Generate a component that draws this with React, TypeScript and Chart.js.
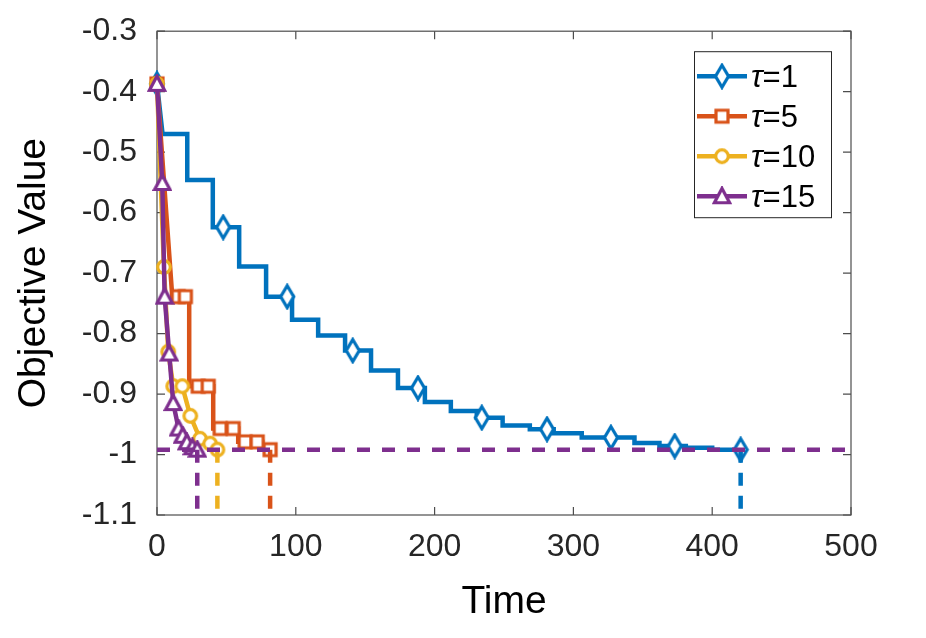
import React, { useEffect, useRef } from 'react';
import { Chart, registerables } from 'chart.js';

Chart.register(...registerables);

const FONT = '"Liberation Sans", Arial, Helvetica, sans-serif';

// Axis ticks
const xTicks = [0, 100, 200, 300, 400, 500];
const yTicks = [-1.1, -1, -0.9, -0.8, -0.7, -0.6, -0.5, -0.4, -0.3];

// Legend entries (tau values)
const tauLabels = ['1', '5', '10', '15'];
const seriesColors = ['#0072BD', '#D95319', '#EDB120', '#7E2F8E'];

// Reference objective reached by every run
const optimalValue = -0.992;

// tau = 1 : stair-shaped descent
const tau1Time = [0, 4, 21.8, 21.8, 40.2, 40.2, 59.2, 59.2, 78.6, 78.6, 97.3, 97.3, 116.1, 116.1, 135.5, 135.5, 154.2, 154.2, 173.6, 173.6, 193, 193, 211.7, 211.7, 230.4, 230.4, 249, 249, 268.6, 268.6, 285.8, 285.8, 306, 306, 344, 344, 362, 362, 381, 381, 400, 400, 420.5];
const tau1Value = [-0.387, -0.47, -0.47, -0.546, -0.546, -0.624, -0.624, -0.689, -0.689, -0.739, -0.739, -0.777, -0.777, -0.803, -0.803, -0.828, -0.828, -0.861, -0.861, -0.89, -0.89, -0.913, -0.913, -0.928, -0.928, -0.939, -0.939, -0.952, -0.952, -0.958, -0.958, -0.965, -0.965, -0.972, -0.972, -0.981, -0.981, -0.986, -0.986, -0.989, -0.989, -0.992, -0.992];
const tau1MarkTime = [0, 47.7, 93.8, 141, 188, 234, 281, 327, 373, 420.5];
const tau1MarkValue = [-0.387, -0.624, -0.739, -0.828, -0.89, -0.939, -0.958, -0.972, -0.986, -0.992];

// tau = 5
const tau5Time = [0, 11, 23.2, 23.2, 40.5, 40.5, 58.5, 58.5, 75.8, 75.8, 81.5];
const tau5Value = [-0.387, -0.739, -0.739, -0.887, -0.887, -0.957, -0.957, -0.979, -0.979, -0.99, -0.992];
const tau5MarkTime = [0, 15.3, 20.4, 29.7, 36.9, 45.5, 54.9, 63.5, 72.2, 81.5];
const tau5MarkValue = [-0.387, -0.739, -0.739, -0.887, -0.887, -0.957, -0.957, -0.979, -0.979, -0.992];

// tau = 10
const tau10Time = [0, 5, 8.1, 11.7, 18.2, 24, 31, 38.3, 43.5];
const tau10Value = [-0.387, -0.69, -0.83, -0.887, -0.887, -0.936, -0.974, -0.982, -0.992];

// tau = 15
const tau15Time = [0, 3.8, 5.5, 8.8, 11.7, 15.5, 18.5, 21.5, 25.5, 29];
const tau15Value = [-0.387, -0.551, -0.739, -0.833, -0.915, -0.957, -0.969, -0.98, -0.988, -0.992];

// Finishing time of each run (dashed drop lines)
const finishTime = [420.5, 81.5, 43.5, 29];

type Shape = 'diamond' | 'square' | 'circle' | 'triangle';
const seriesShapes: Shape[] = ['diamond', 'square', 'circle', 'triangle'];

function markerCanvas(shape: Shape, color: string): HTMLCanvasElement {
  const c = document.createElement('canvas');
  const w = shape === 'diamond' ? 18 : 20;
  const h = shape === 'diamond' ? 27 : 20;
  c.width = w;
  c.height = h;
  const g = c.getContext('2d')!;
  g.lineWidth = 3.2;
  g.strokeStyle = color;
  g.fillStyle = '#ffffff';
  g.lineJoin = 'miter';
  g.beginPath();
  if (shape === 'diamond') {
    g.moveTo(w / 2, 2.5);
    g.lineTo(w - 2.5, h / 2);
    g.lineTo(w / 2, h - 2.5);
    g.lineTo(2.5, h / 2);
  } else if (shape === 'square') {
    g.rect(4, 4, 12, 12);
  } else if (shape === 'circle') {
    g.arc(10, 10, 6.3, 0, Math.PI * 2);
  } else {
    g.moveTo(10, 2.2);
    g.lineTo(17.6, 16.5);
    g.lineTo(2.4, 16.5);
  }
  g.closePath();
  g.fill();
  g.stroke();
  return c;
}

const pts = (t: number[], v: number[]) => t.map((x, i) => ({ x, y: v[i] }));

export default function App() {
  const canvasRef = useRef<HTMLCanvasElement | null>(null);

  useEffect(() => {
    document.body.style.margin = '0';
    const markers = seriesColors.map((c, i) => markerCanvas(seriesShapes[i], c));

    const lineSet = (t: number[], v: number[], color: string, order: number, dash?: number[]) => ({
      type: 'line' as const,
      data: pts(t, v),
      borderColor: color,
      borderWidth: 4.5,
      borderDash: dash || [],
      pointRadius: 0,
      fill: false,
      tension: 0,
      clip: false as const,
      order,
    });
    const markSet = (t: number[], v: number[], idx: number, order: number) => ({
      type: 'line' as const,
      data: pts(t, v),
      showLine: false,
      pointStyle: markers[idx],
      pointRadius: 6,
      clip: false as const,
      order,
    });

    const datasets: any[] = [
      lineSet(tau1Time, tau1Value, seriesColors[0], 20),
      markSet(tau1MarkTime, tau1MarkValue, 0, 19),
      lineSet(tau5Time, tau5Value, seriesColors[1], 18),
      markSet(tau5MarkTime, tau5MarkValue, 1, 17),
      lineSet(tau10Time, tau10Value, seriesColors[2], 16),
      markSet(tau10Time, tau10Value, 2, 15),
      lineSet(tau15Time, tau15Value, seriesColors[3], 14),
      markSet(tau15Time, tau15Value, 3, 13),
    ];
    finishTime.forEach((t, i) => {
      datasets.push(lineSet([t, t], [optimalValue, yTicks[0]], seriesColors[i], 5 - i, [13, 10]));
    });
    datasets.push(lineSet([xTicks[0], xTicks[xTicks.length - 1]], [optimalValue, optimalValue], seriesColors[3], 0, [13, 12]));

    const framePlugin = {
      id: 'frame',
      beforeDatasetsDraw(chart: any) {
        const { ctx, chartArea: a, scales } = chart;
        ctx.save();
        ctx.strokeStyle = '#4d4d4d';
        ctx.lineWidth = 1.2;
        ctx.strokeRect(a.left, a.top, a.right - a.left, a.bottom - a.top);
        const tl = 8;
        ctx.beginPath();
        xTicks.forEach((v) => {
          const x = scales.x.getPixelForValue(v);
          ctx.moveTo(x, a.bottom);
          ctx.lineTo(x, a.bottom - tl);
          ctx.moveTo(x, a.top);
          ctx.lineTo(x, a.top + tl);
        });
        yTicks.forEach((v) => {
          const y = scales.y.getPixelForValue(v);
          ctx.moveTo(a.left, y);
          ctx.lineTo(a.left + tl, y);
          ctx.moveTo(a.right, y);
          ctx.lineTo(a.right - tl, y);
        });
        ctx.stroke();
        ctx.restore();
      },
    };

    const legendPlugin = {
      id: 'tauLegend',
      afterDraw(chart: any) {
        const { ctx, chartArea: a } = chart;
        const w = 137;
        const h = 166;
        const x0 = a.right - 20 - w;
        const y0 = a.top + 20;
        ctx.save();
        ctx.fillStyle = '#ffffff';
        ctx.fillRect(x0, y0, w, h);
        ctx.strokeStyle = '#262626';
        ctx.lineWidth = 1;
        ctx.strokeRect(x0 + 0.5, y0 + 0.5, w, h);
        tauLabels.forEach((lab, i) => {
          const cy = y0 + 25 + i * 40;
          ctx.strokeStyle = seriesColors[i];
          ctx.lineWidth = 4.5;
          ctx.setLineDash([]);
          ctx.beginPath();
          ctx.moveTo(x0 + 3, cy);
          ctx.lineTo(x0 + 53, cy);
          ctx.stroke();
          const m = markers[i];
          ctx.drawImage(m, x0 + 28 - m.width / 2, cy - m.height / 2);
          ctx.fillStyle = '#000000';
          ctx.textBaseline = 'middle';
          ctx.textAlign = 'left';
          ctx.font = `italic 31px ${FONT}`;
          const tx = x0 + 57;
          ctx.fillText('\u03C4', tx, cy + 2);
          const tw = ctx.measureText('\u03C4').width;
          ctx.font = `31px ${FONT}`;
          ctx.fillText('=' + lab, tx + tw, cy + 2);
        });
        ctx.restore();
      },
    };

    const chart = new Chart(canvasRef.current!, {
      type: 'line',
      data: { datasets },
      plugins: [framePlugin, legendPlugin],
      options: {
        animation: false,
        responsive: true,
        maintainAspectRatio: false,
        events: [],
        layout: { padding: { top: 14, right: 75, bottom: 0, left: 0 } },
        plugins: { legend: { display: false }, tooltip: { enabled: false } },
        scales: {
          x: {
            type: 'linear',
            min: xTicks[0],
            max: xTicks[xTicks.length - 1],
            grid: { display: false },
            border: { display: false },
            afterBuildTicks: (s: any) => {
              s.ticks = xTicks.map((v) => ({ value: v }));
            },
            afterFit: (s: any) => {
              s.height = 123;
            },
            ticks: {
              color: '#262626',
              font: { family: FONT, size: 32 },
              padding: 5,
              maxRotation: 0,
              callback: (v: any) => String(v),
            },
            title: {
              display: true,
              text: 'Time',
              color: '#000000',
              font: { family: FONT, size: 39 },
              padding: { top: 0, bottom: 12 },
            },
          },
          y: {
            type: 'linear',
            min: yTicks[0],
            max: yTicks[yTicks.length - 1],
            grid: { display: false },
            border: { display: false },
            afterBuildTicks: (s: any) => {
              s.ticks = yTicks.map((v) => ({ value: v }));
            },
            afterFit: (s: any) => {
              s.width = 157;
            },
            ticks: {
              color: '#262626',
              font: { family: FONT, size: 32 },
              padding: 12,
              callback: (v: any) => String(Number(Number(v).toFixed(2))),
            },
            title: {
              display: true,
              text: 'Objective Value',
              color: '#000000',
              font: { family: FONT, size: 39 },
              padding: { top: 11, bottom: 0 },
            },
          },
        },
      },
    } as any);

    return () => chart.destroy();
  }, []);

  return (
    <div style={{ position: 'absolute', left: 0, top: 0, width: 926, height: 638, background: '#ffffff' }}>
      <canvas ref={canvasRef} />
    </div>
  );
}
